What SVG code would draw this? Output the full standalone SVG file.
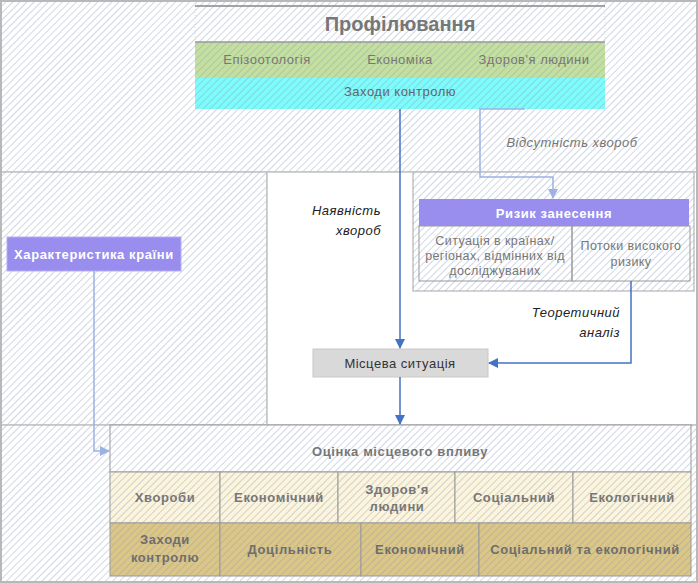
<svg xmlns="http://www.w3.org/2000/svg" width="698" height="583" viewBox="0 0 698 583">
<defs>
<pattern id="hatch" patternUnits="userSpaceOnUse" width="5" height="5" patternTransform="rotate(45)">
<line x1="0.5" y1="0" x2="0.5" y2="5" stroke="#8a9ab8" stroke-opacity="0.4" stroke-width="1"/>
</pattern>
<marker id="ahDark" markerWidth="10" markerHeight="10" refX="9" refY="5" orient="auto" markerUnits="userSpaceOnUse">
<path d="M0,0 L10,5 L0,10 Z" fill="#4472c4"/>
</marker>
<marker id="ahLight" markerWidth="10" markerHeight="10" refX="9" refY="5" orient="auto" markerUnits="userSpaceOnUse">
<path d="M0,0 L10,5 L0,10 Z" fill="#9db2e2"/>
</marker>
</defs>
<style>
.region{stroke:#c4c4c4;stroke-width:1.5}
.h{fill:url(#hatch)}
.t{font-family:"Liberation Sans",Arial,sans-serif;font-size:13px;text-anchor:middle;dominant-baseline:central;letter-spacing:0.5px}
.g{fill:#777}
.b{font-weight:bold;letter-spacing:0.6px}
.w{fill:#fff}
.it{font-style:italic}
.sm{font-size:12.5px;letter-spacing:0.4px}
.cell{stroke:#999;stroke-width:1}
.dark{fill:none;stroke:#4472c4;stroke-width:1.5}
.light{fill:none;stroke:#9db2e2;stroke-width:1.5}
</style>
<rect x="0" y="0" width="698" height="583" fill="#fff"/>
<g id="regions">
<rect x="1" y="1" width="696" height="171" fill="#fff" class="region"/>
<rect x="1" y="1" width="696" height="171" class="h"/>
<rect x="1" y="172" width="266" height="253" fill="#fff" class="region"/>
<rect x="1" y="172" width="266" height="253" class="h"/>
<rect x="267" y="172" width="430" height="253" fill="#fff" class="region"/>
<rect x="1" y="425" width="696" height="157" fill="#fff" class="region"/>
<rect x="1" y="425" width="696" height="157" class="h"/>
<rect x="413" y="172" width="281" height="119" fill="#fff" class="region"/>
<rect x="413" y="172" width="281" height="119" class="h"/>
<rect x="1" y="1" width="696" height="581" fill="none" stroke="#b8b8b8" stroke-width="2"/>
</g>
<g id="profiling">
<rect x="195" y="6" width="410" height="36" fill="#fff" stroke="#ddd" stroke-width="1" stroke-dasharray="1,2"/>
<rect x="195" y="6" width="410" height="36" class="h"/>
<line x1="195" y1="6" x2="605" y2="6" stroke="#888" stroke-width="1.5"/>
<text x="400" y="24" class="t g b" style="font-size:20px;letter-spacing:0">Профілювання</text>
<rect x="195" y="42" width="410" height="36" fill="#c4e09e"/>
<rect x="195" y="42" width="410" height="36" class="h"/>
<line x1="195" y1="42" x2="605" y2="42" stroke="#999" stroke-width="1.5"/>
<text x="267" y="59" class="t" fill="#777">Епізоотологія</text>
<text x="400" y="59" class="t" fill="#777">Економіка</text>
<text x="534" y="59" class="t" fill="#777">Здоров'я людини</text>
<rect x="195" y="78" width="410" height="31" fill="#7dfcfc"/>
<rect x="195" y="78" width="410" height="31" class="h"/>
<text x="400" y="91" class="t" fill="#666">Заходи контролю</text>
</g>
<g id="risk">
<rect x="419" y="199" width="270" height="27" fill="#9a8cf2"/>
<rect x="419" y="199" width="270" height="27" class="h"/>
<text x="554" y="213" class="t w b">Ризик занесення</text>
<rect x="419" y="226" width="153" height="55" fill="none" class="cell"/>
<rect x="572" y="226" width="118" height="55" fill="none" class="cell"/>
<text x="495" y="241" class="t g sm">Ситуація в країнах/</text>
<text x="495" y="256" class="t g sm">регіонах, відмінних від</text>
<text x="495" y="271" class="t g sm">досліджуваних</text>
<text x="631" y="246" class="t g sm">Потоки високого</text>
<text x="631" y="262" class="t g sm">ризику</text>
</g>
<g id="country">
<rect x="7" y="237" width="174" height="34" fill="#9a8cf2" stroke="#b8b0f4" stroke-width="1"/>
<rect x="7" y="237" width="174" height="34" class="h"/>
<text x="94" y="254" class="t w b">Характеристика країни</text>
</g>
<g id="local">
<rect x="313" y="349" width="175" height="28" fill="#d9d9d9" stroke="#c8c8c8" stroke-width="1"/>
<text x="400" y="363" class="t" fill="#333">Місцева ситуація</text>
</g>
<g id="assessment">
<rect x="110" y="425" width="581" height="47" fill="#fff" class="cell"/>
<rect x="110" y="425" width="581" height="47" class="h"/>
<text x="400" y="451" class="t g b">Оцінка місцевого впливу</text>
<g fill="#fdf4dc" class="cell">
<rect x="110" y="472" width="110" height="51"/>
<rect x="220" y="472" width="118" height="51"/>
<rect x="338" y="472" width="117" height="51"/>
<rect x="455" y="472" width="118" height="51"/>
<rect x="573" y="472" width="118" height="51"/>
</g>
<rect x="110" y="472" width="581" height="51" class="h"/>
<text x="165" y="497" class="t g b">Хвороби</text>
<text x="279" y="497" class="t g b">Економічний</text>
<text x="397" y="489" class="t g b">Здоров'я</text>
<text x="397" y="506" class="t g b">людини</text>
<text x="514" y="497" class="t g b">Соціальний</text>
<text x="632" y="497" class="t g b">Екологічний</text>
<g fill="#dcc686" class="cell">
<rect x="110" y="523" width="110" height="53"/>
<rect x="220" y="523" width="141" height="53"/>
<rect x="361" y="523" width="118" height="53"/>
<rect x="479" y="523" width="212" height="53"/>
</g>
<rect x="110" y="523" width="581" height="53" class="h"/>
<text x="165" y="539" class="t b" fill="#6e6e6e">Заходи</text>
<text x="165" y="557" class="t b" fill="#6e6e6e">контролю</text>
<text x="290" y="549" class="t b" fill="#6e6e6e">Доцільність</text>
<text x="420" y="549" class="t b" fill="#6e6e6e">Економічний</text>
<text x="585" y="549" class="t b" fill="#6e6e6e">Соціальний та екологічний</text>
</g>
<g id="connectors">
<path d="M400,109 L400,348" class="dark" marker-end="url(#ahDark)"/>
<path d="M400,377 L400,424" class="dark" marker-end="url(#ahDark)"/>
<path d="M631,281 L631,363 L489,363" class="dark" marker-end="url(#ahDark)"/>
<path d="M525,109 L480,109 L480,177 L553,177 L553,198" class="light" marker-end="url(#ahLight)"/>
<path d="M94,271 L94,451 L109,451" class="light" marker-end="url(#ahLight)"/>
</g>
<g id="labels">
<text x="572" y="142" class="t it g">Відсутність хвороб</text>
<text x="381" y="210" class="t it" fill="#222" style="text-anchor:end">Наявність</text>
<text x="381" y="230" class="t it" fill="#222" style="text-anchor:end">хвороб</text>
<text x="620" y="312" class="t it" fill="#222" style="text-anchor:end">Теоретичний</text>
<text x="620" y="332" class="t it" fill="#222" style="text-anchor:end">аналіз</text>
</g>
</svg>
